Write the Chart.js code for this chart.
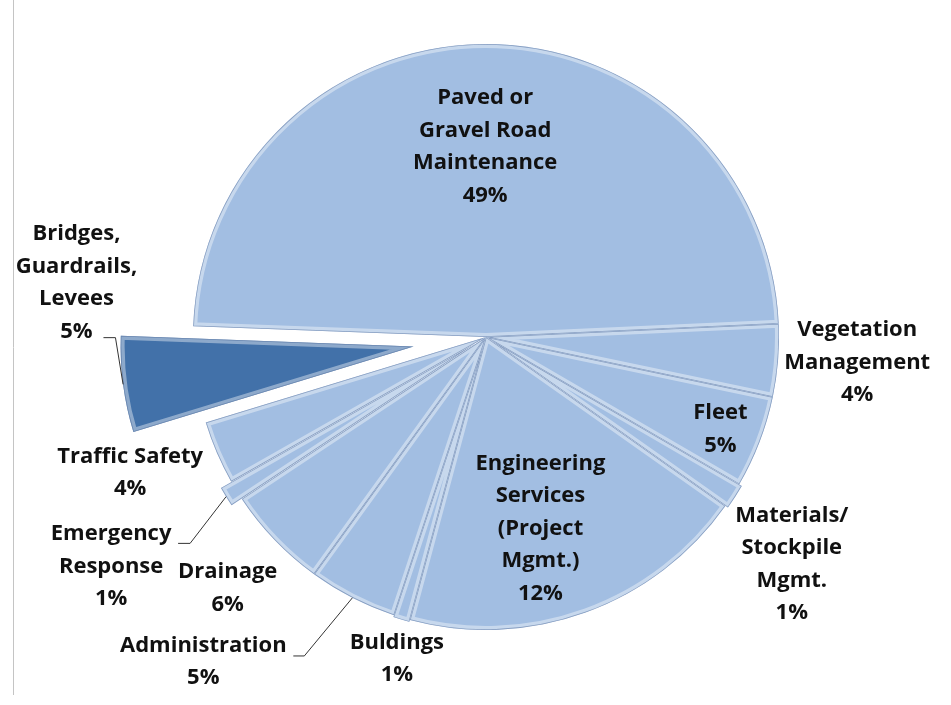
<!DOCTYPE html>
<html>
<head>
<meta charset="utf-8">
<script src="https://cdn.jsdelivr.net/npm/chart.js@4.4.0/dist/chart.umd.min.js"></script>
<style>
  html, body { margin: 0; padding: 0; background: #fff; }
  #wrap { position: relative; width: 951px; height: 705px; }
</style>
</head>
<body>
<div id="wrap"><canvas id="budget-pie" width="951" height="705"></canvas></div>
<script>
// slice names, as split on the chart
const categories = [
  ['Paved or', 'Gravel Road', 'Maintenance'],
  ['Vegetation', 'Management'],
  ['Fleet'],
  ['Materials/', 'Stockpile', 'Mgmt.'],
  ['Engineering', 'Services', '(Project', 'Mgmt.)'],
  ['Buldings'],
  ['Administration'],
  ['Drainage'],
  ['Emergency', 'Response'],
  ['Traffic Safety'],
  ['Bridges,', 'Guardrails,', 'Levees']
];
// slice sizes
const shares = [48.7, 4.0, 5.1, 1.4, 19.4, 0.9, 4.9, 5.7, 1.1, 3.5, 5.3];
// percentages as printed on the labels
const pctLabels = ['49%', '4%', '5%', '1%', '12%', '1%', '5%', '6%', '1%', '4%', '5%'];

const lightBlue = '#a2bee2';
const darkBlue = '#4271a9';
const explode = [0, 0, 0, 3, 0, 2, 0, 0, 12, 0, 73];

// label placement: r = fraction of radius, da = degrees from slice middle
const place = [
  { r: 0.65, da: 0 },
  { r: 1.27, da: -0.7 },
  { r: 0.86, da: 0.5 },
  { r: 1.30, da: 3.9 },
  { r: 0.68, da: 4 },
  { r: 1.14, da: -1.2 },
  { r: 1.47, da: 13.9 },
  { r: 1.23, da: -0.4 },
  { r: 1.50, da: 0.1 },
  { r: 1.30, da: 2.4 },
  { r: 1.41, da: 15.0 }
];
// leader lines, points relative to the label centre, then to the slice edge
const leaders = {
  6: [[90, -6], [101, -6]],
  8: [[67, -23], [79, -23]],
  10: [[27, 55], [39, 55]]
};

const pieDraw = {
  id: 'pieDraw',
  beforeDatasetDraw(chart, args) {
    const ctx = chart.ctx;
    args.meta.data.forEach((arc, i) => {
      const mid = (arc.startAngle + arc.endAngle) / 2;
      const d = explode[i];
      ctx.save();
      ctx.translate(Math.cos(mid) * d, Math.sin(mid) * d);
      arc.draw(ctx);
      // fake bevel edge
      ctx.beginPath();
      ctx.moveTo(arc.x, arc.y);
      ctx.arc(arc.x, arc.y, arc.outerRadius, arc.startAngle, arc.endAngle);
      ctx.closePath();
      ctx.clip();
      ctx.lineJoin = 'round';
      ctx.strokeStyle = 'rgba(255,255,255,0.4)';
      ctx.lineWidth = 8;
      ctx.stroke();
      ctx.strokeStyle = 'rgba(70,100,150,0.5)';
      ctx.lineWidth = 1.5;
      ctx.stroke();
      ctx.restore();
    });
    return false;
  }
};

const pieLabels = {
  id: 'pieLabels',
  beforeDraw(chart) {
    const ctx = chart.ctx;
    ctx.save();
    ctx.strokeStyle = '#c4c4c4';
    ctx.lineWidth = 1;
    ctx.beginPath();
    ctx.moveTo(13.5, 0);
    ctx.lineTo(13.5, 695);
    ctx.stroke();
    ctx.restore();
  },
  afterDraw(chart) {
    const ctx = chart.ctx;
    const meta = chart.getDatasetMeta(0);
    const lh = 32.5;
    ctx.save();
    ctx.font = 'bold 22px "Open Sans"';
    ctx.fillStyle = '#111';
    ctx.textAlign = 'center';
    ctx.textBaseline = 'middle';
    meta.data.forEach((arc, i) => {
      const mid = (arc.startAngle + arc.endAngle) / 2;
      const a = mid + place[i].da * Math.PI / 180;
      const R = arc.outerRadius;
      const cx = arc.x + Math.cos(a) * R * place[i].r;
      const cy = arc.y + Math.sin(a) * R * place[i].r;
      const lines = categories[i].concat([pctLabels[i]]);
      lines.forEach((t, k) => {
        ctx.fillText(t, cx, cy + (k - (lines.length - 1) / 2) * lh);
      });
      if (leaders[i]) {
        const ex = arc.x + Math.cos(mid) * (R + explode[i]);
        const ey = arc.y + Math.sin(mid) * (R + explode[i]);
        ctx.strokeStyle = '#333';
        ctx.lineWidth = 1;
        ctx.beginPath();
        ctx.moveTo(cx + leaders[i][0][0], cy + leaders[i][0][1]);
        ctx.lineTo(cx + leaders[i][1][0], cy + leaders[i][1][1]);
        ctx.lineTo(ex, ey);
        ctx.stroke();
      }
    });
    ctx.restore();
  }
};

new Chart(document.getElementById('budget-pie'), {
  type: 'pie',
  data: {
    labels: categories.map((c) => c.join(' ')),
    datasets: [{
      data: shares,
      backgroundColor: shares.map((v, i) => (i === shares.length - 1 ? darkBlue : lightBlue)),
      borderWidth: 0
    }]
  },
  options: {
    responsive: false,
    animation: false,
    events: [],
    rotation: 272.1,
    radius: 293,
    layout: { padding: { left: 21, right: 0, top: 0, bottom: 31 } },
    plugins: {
      legend: { display: false },
      tooltip: { enabled: false }
    }
  },
  plugins: [pieDraw, pieLabels]
});
</script>
</body>
</html>
